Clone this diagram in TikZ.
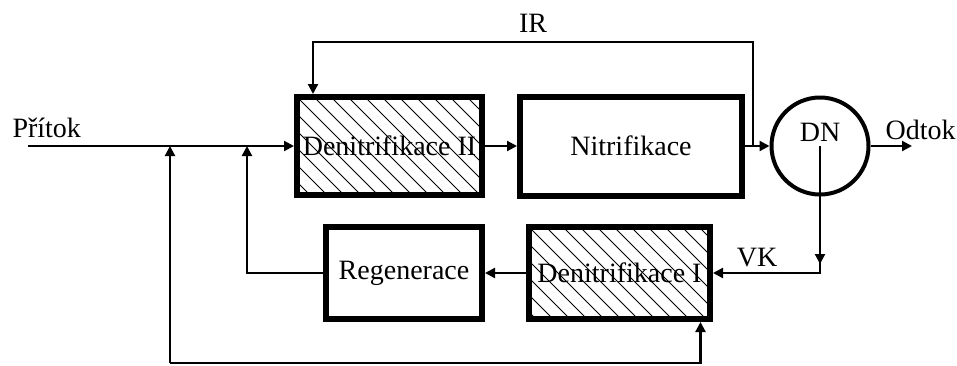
\documentclass[tikz,border=0pt]{standalone}
\usepackage{fontspec}
\setmainfont{Liberation Serif}
\usetikzlibrary{arrows.meta,calc}
\begin{document}
\begin{tikzpicture}[x=1pt,y=-1pt,
  every node/.style={font=\fontsize{28}{33}\selectfont},
  conn/.style={line width=2.2pt},
  arr/.style={conn,-{Triangle[length=10pt,width=10pt]}},
  block/.style={draw,line width=6pt,inner sep=0pt,rectangle},
  hatch/.style={path picture={\foreach \k in {-8,...,12}{\draw[line width=1pt] ([xshift=\k*17pt]path picture bounding box.north west) -- ++(110pt,-110pt);}}}
]
\useasboundingbox (0,0) rectangle (957,365);

% blocks
\node[block,hatch,minimum width=185pt,minimum height=98pt] (d2) at (389.5,146) {Denitrifikace II};
\node[block,minimum width=222pt,minimum height=99pt] (ni) at (631,146) {Nitrifikace};
\node[draw,circle,line width=4pt,minimum size=97pt,inner sep=0pt,label={[yshift=14pt]center:DN}] (dn) at (820,146) {};
\node[block,hatch,minimum width=181pt,minimum height=92pt] (d1) at (619.5,273) {Denitrifikace I};
\node[block,minimum width=156pt,minimum height=92pt] (reg) at (404,273) {Regenerace};

% coordinates
\coordinate (src) at (28,146);
\coordinate (m1) at (170,146);
\coordinate (m2) at (247,146);
\coordinate (bl) at (170,363);
\coordinate (irR) at (753,146);
\coordinate (irTop) at (753,42);
\coordinate (irL) at (313,42);
\coordinate (out) at (912,146);
\coordinate (vk) at (820,264);

% connectors
\draw[arr] (src) -- (d2.west);
\draw[arr] (d2.east) -- (ni.west);
\draw[arr] (ni.east) -- (dn.west);
\draw[arr] (dn.east) -- (out);
\draw[arr] (irR) -- (irTop) -- (irL) -- (irL |- d2.north);
\draw[arr] (dn.center) -- (vk);
\draw[arr] (dn.center) |- (d1.east);
\draw[arr] (d1.west) -- (reg.east);
\draw[arr] (reg.west) -| (m2);
\draw[arr] (bl) -- (m1);
\draw[arr] (bl) -| ($(d1.south east)+(-12.5,0)$);

% labels
\node[anchor=west] (lp) at (9,128) {Přítok};
\node (lir) at (533,23) {IR};
\node[anchor=west] (lo) at (882,130) {Odtok};
\node (lvk) at (757,258) {VK};
\end{tikzpicture}
\end{document}
